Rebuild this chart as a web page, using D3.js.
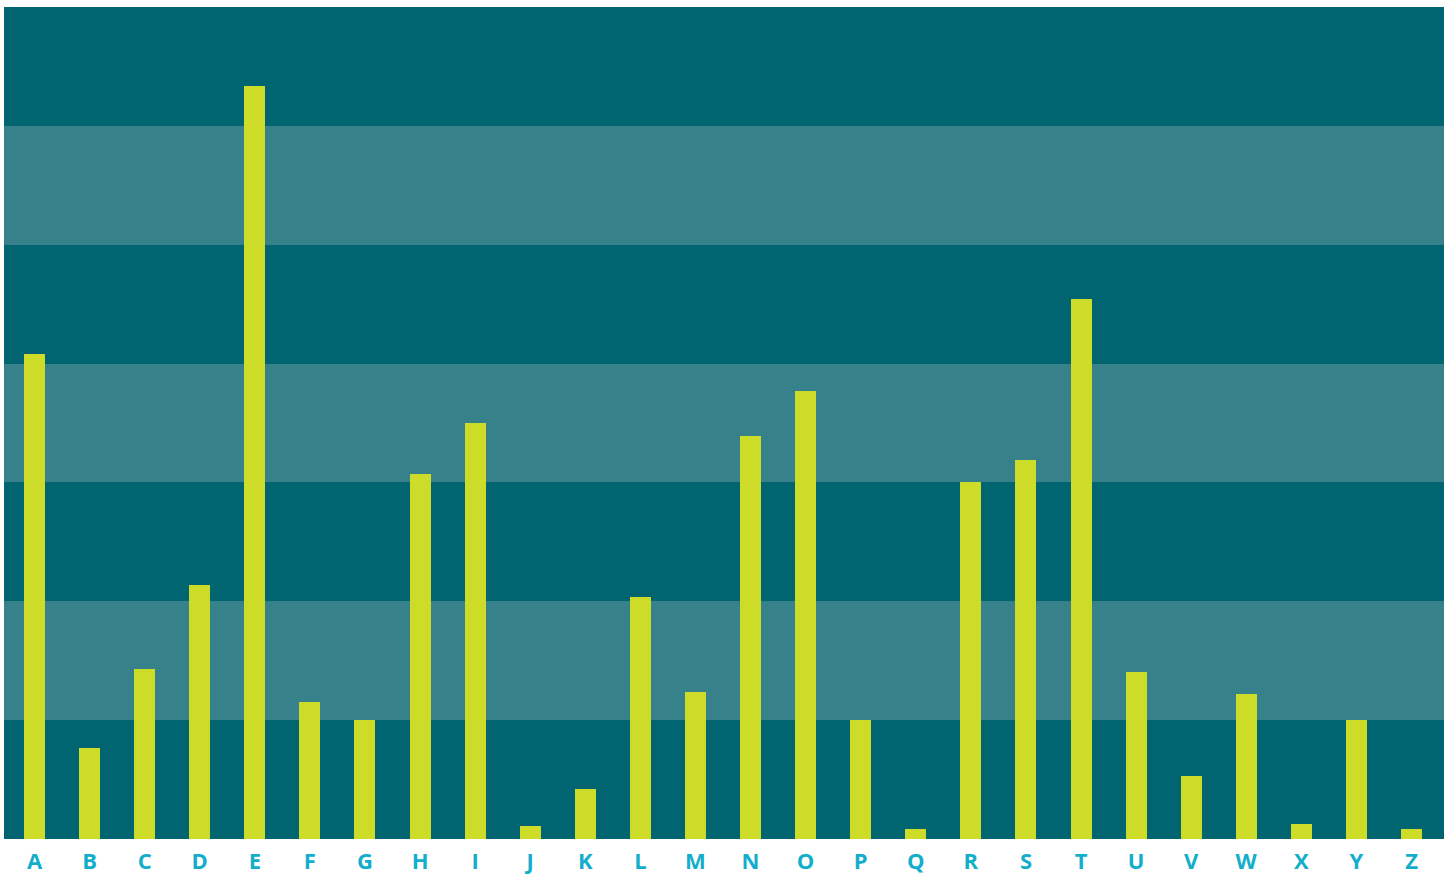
<!DOCTYPE html>
<html><head><meta charset="utf-8">
<script src="https://cdn.jsdelivr.net/npm/d3@7"></script>
<style>body{margin:0;background:#fff}svg{display:block}</style>
</head><body>
<script>
const letters = ["A","B","C","D","E","F","G","H","I","J","K","L","M","N","O","P","Q","R","S","T","U","V","W","X","Y","Z"];
const frequencies = [8.16,1.53,2.86,4.27,12.67,2.31,2.0,6.14,7.0,0.22,0.84,4.07,2.47,6.78,7.54,2.0,0.17,6.0,6.38,9.09,2.81,1.06,2.44,0.25,2.0,0.17];
const bandBreaks = [0,2,4,6,8,10,12,14];

const W=1450,H=875, mLeft=4,mRight=1444,mTop=7,mBottom=839;
const svg=d3.select("body").append("svg").attr("width",W).attr("height",H);
const x=d3.scaleBand().domain(letters).range([mLeft,mRight]).paddingInner(0.6187).paddingOuter(0.381).align(0.476);
const y=d3.scaleLinear().domain([0,14]).range([mBottom,mTop]);

svg.append("g").attr("shape-rendering","crispEdges").selectAll("rect").data(d3.range(bandBreaks.length-1)).join("rect")
 .attr("x",mLeft).attr("width",mRight-mLeft)
 .attr("y",i=>Math.round(y(bandBreaks[i+1]))).attr("height",i=>Math.round(y(bandBreaks[i]))-Math.round(y(bandBreaks[i+1])))
 .attr("fill",i=>i%2===1?"#36818a":"#006570");

svg.append("g").attr("shape-rendering","crispEdges").selectAll("rect").data(letters).join("rect")
 .attr("x",d=>Math.round(x(d))).attr("width",Math.round(x.bandwidth()))
 .attr("y",(d,i)=>Math.round(y(frequencies[i]))).attr("height",(d,i)=>mBottom-Math.round(y(frequencies[i])))
 .attr("fill","#cddc29");

const ax=svg.append("g").attr("transform",`translate(0,${mBottom})`).call(d3.axisBottom(x).tickSize(0).tickPadding(14));
ax.select(".domain").remove();
ax.selectAll("text").attr("fill","#12aecb").style("font-family","'Open Sans',sans-serif").style("font-weight","bold").style("font-size","22px");
</script>
</body></html>
